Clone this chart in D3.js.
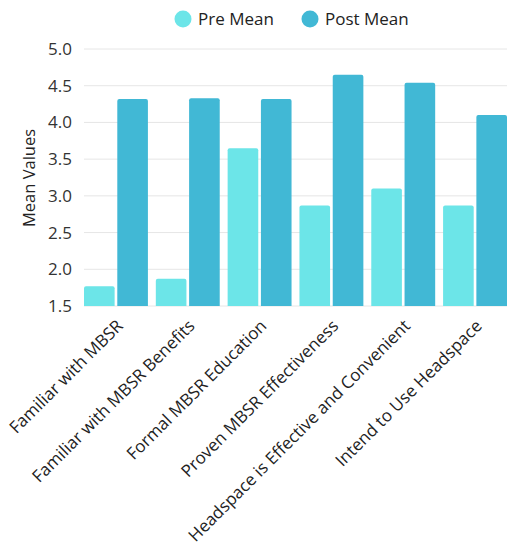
<!DOCTYPE html>
<html>
<head>
<meta charset="utf-8">
<script src="https://cdn.jsdelivr.net/npm/d3@7"></script>
<style>
  html, body { margin: 0; padding: 0; background: #fff; }
  svg { display: block; font-family: "Open Sans", sans-serif; }
</style>
</head>
<body>
<svg id="chart" width="509" height="546"></svg>
<script>
const categories = [
  "Familiar with MBSR",
  "Familiar with MBSR Benefits",
  "Formal MBSR Education",
  "Proven MBSR Effectiveness",
  "Headspace is Effective and Convenient",
  "Intend to Use Headspace"
];
const seriesNames = ["Pre Mean", "Post Mean"];
const preMean = [1.77, 1.87, 3.65, 2.87, 3.10, 2.87];
const postMean = [4.32, 4.33, 4.32, 4.65, 4.54, 4.10];
const yTicks = [1.5, 2.0, 2.5, 3.0, 3.5, 4.0, 4.5, 5.0];
const colors = ["#6ce5e8", "#41b8d5"];

const FONT = "'Open Sans', sans-serif";
const svg = d3.select("#chart");
const margin = { left: 84, right: 2, top: 49, bottom: 240 };
const W = 509, H = 546;

const x0 = d3.scaleBand().domain(categories)
  .range([margin.left, W - margin.right])
  .paddingInner(0.11).paddingOuter(0);
const x1 = d3.scaleBand().domain(seriesNames)
  .range([0, x0.bandwidth()]).paddingInner(0.08);
const y = d3.scaleLinear().domain([1.5, 5.0]).range([306, 49]);

// grid
svg.append("g").selectAll("line").data(yTicks).join("line")
  .attr("x1", margin.left).attr("x2", W - margin.right)
  .attr("y1", d => y(d)).attr("y2", d => y(d))
  .attr("stroke", "#e6e6e6").attr("stroke-width", 1);

// y axis labels
const yAxis = d3.axisLeft(y).tickValues(yTicks).tickFormat(d3.format(".1f")).tickSize(0).tickPadding(12);
const gy = svg.append("g").attr("transform", `translate(${margin.left},0)`).call(yAxis);
gy.attr("font-family", FONT);
gy.select(".domain").remove();
gy.selectAll("text").attr("font-size", 17).attr("fill", "#333");

// y title
svg.append("text")
  .attr("transform", `translate(35,178) rotate(-90)`)
  .attr("text-anchor", "middle")
  .attr("font-size", 16.5).attr("fill", "#222")
  .text("Mean Values");

// bars
function topRounded(x, yTop, w, h, r) {
  r = Math.min(r, w / 2, h);
  return `M${x},${yTop + h}V${yTop + r}Q${x},${yTop} ${x + r},${yTop}H${x + w - r}Q${x + w},${yTop} ${x + w},${yTop + r}V${yTop + h}Z`;
}
const data = categories.map((c, i) => ({ cat: c, vals: [
  { s: seriesNames[0], v: preMean[i], c: colors[0] },
  { s: seriesNames[1], v: postMean[i], c: colors[1] }
]}));
const groups = svg.append("g").selectAll("g").data(data).join("g")
  .attr("transform", d => `translate(${x0(d.cat)},0)`);
groups.selectAll("path").data(d => d.vals).join("path")
  .attr("d", d => topRounded(x1(d.s), y(d.v), x1.bandwidth(), y(1.5) - y(d.v), 2))
  .attr("fill", d => d.c);

// x labels
const xAxis = d3.axisBottom(x0).tickSize(0).tickPadding(0);
const gx = svg.append("g").attr("transform", `translate(0,${y(1.5)})`).call(xAxis);
gx.attr("font-family", FONT);
gx.select(".domain").remove();
gx.selectAll("text")
  .attr("font-size", 17).attr("fill", "#222")
  .attr("text-anchor", "end")
  .attr("dy", null).attr("y", null)
  .attr("transform", "translate(8,21) rotate(-45)");

// legend
const legend = svg.append("g");
const legItems = [
  { name: seriesNames[0], color: colors[0], cx: 183, tx: 198 },
  { name: seriesNames[1], color: colors[1], cx: 310, tx: 325 }
];
legItems.forEach(it => {
  legend.append("circle").attr("cx", it.cx).attr("cy", 19).attr("r", 8.5).attr("fill", it.color);
  legend.append("text").attr("x", it.tx).attr("y", 25).attr("font-size", 17).attr("fill", "#222").text(it.name);
});
</script>
</body>
</html>
